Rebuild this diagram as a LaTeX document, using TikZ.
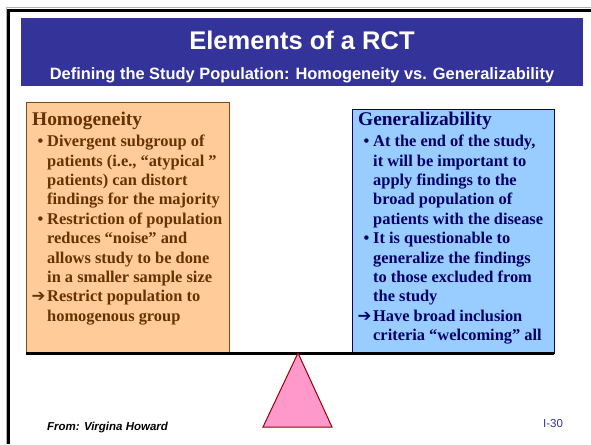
\documentclass[tikz,border=0pt]{standalone}
\usepackage{fontspec}
\setmainfont{Liberation Serif}
\newfontfamily\arialfont{Liberation Sans}
\newfontfamily\arrowfont{DejaVu Sans}
\definecolor{banner}{HTML}{333399}
\definecolor{orfill}{HTML}{FFCC99}
\definecolor{ordraw}{HTML}{7A4A1A}
\definecolor{ortext}{HTML}{663300}
\definecolor{blfill}{HTML}{99CCFF}
\definecolor{bldraw}{HTML}{000066}
\definecolor{bltext}{HTML}{000066}
\definecolor{trifill}{HTML}{FF99CC}
\definecolor{tridraw}{HTML}{990000}
\begin{document}
\begin{tikzpicture}[x=1pt,y=-1pt,
  boxhead/.style={anchor=base west,inner sep=0pt,font=\fontsize{19.4}{22}\selectfont\bfseries},
  boxline/.style={anchor=base west,inner sep=0pt,font=\fontsize{16.4}{19}\selectfont\bfseries},
  bul/.style={anchor=base west,inner sep=0pt,font=\fontsize{16.4}{19}\selectfont\bfseries},
  arr/.style={anchor=base west,inner sep=0pt,font=\arrowfont\fontsize{16.5}{19}\selectfont}]
\useasboundingbox (0,0) rectangle (591,444);
% frame
\draw[gray!60,line width=1.2pt] (6.2,444) -- (6.2,7.8) -- (591,7.8);
\draw[black,line width=2.8pt] (8.6,444) -- (8.6,10.4) -- (591,10.4);
% banner
\node[fill=banner,minimum width=562,minimum height=68,inner sep=0pt,anchor=north west] (banner) at (21,18) {};
\node[anchor=base,inner sep=0pt,text=white,font=\arialfont\fontsize{25.5}{28}\selectfont\bfseries] (title) at (302,50) {Elements of a RCT};
\node[anchor=base,inner sep=0pt,text=white,font=\arialfont\fontsize{16.4}{19}\selectfont\bfseries] (subtitle) at (302,79) {Defining the Study Population: Homogeneity vs. Generalizability};
% boxes
\node[fill=orfill,draw=ordraw,line width=0.8pt,minimum width=203,minimum height=251,inner sep=0pt,anchor=north west] (leftbox) at (26,102) {};
\node[fill=blfill,draw=bldraw,line width=0.8pt,minimum width=202,minimum height=244,inner sep=0pt,anchor=north west] (rightbox) at (352,109) {};
% beam
\coordinate (beamL) at (26,353);
\coordinate (beamR) at (554,353);
\draw[line width=3pt] (beamL) -- (beamR);
% fulcrum
\coordinate (apex) at (298,353);
\coordinate (baseL) at (263,427);
\coordinate (baseR) at (332,427);
\draw[fill=trifill,draw=tridraw,line width=1pt,line join=miter] (apex) -- (baseR) -- (baseL) -- cycle;
% left text
\begin{scope}[text=ortext]
\node[boxhead] (lh) at (32,125) {Homogeneity};
\node[bul] (lb1) at (37.5,146.7) {\textbullet};
\node[boxline] (l1) at (47,146.7) {Divergent subgroup of};
\node[boxline] (l2) at (47,166.1) {patients (i.e., “atypical ”};
\node[boxline] (l3) at (47,185.5) {patients) can distort};
\node[boxline] (l4) at (47,204.9) {findings for the majority};
\node[bul] (lb2) at (37.5,224.3) {\textbullet};
\node[boxline] (l5) at (47,224.3) {Restriction of population};
\node[boxline] (l6) at (47,243.7) {reduces “noise” and};
\node[boxline] (l7) at (47,263.1) {allows study to be done};
\node[boxline] (l8) at (47,282.5) {in a smaller sample size};
\node[arr] (la) at (31.5,301.9) {➔};
\node[boxline] (l9) at (47,301.9) {Restrict population to};
\node[boxline] (l10) at (47,321.3) {homogenous group};
\end{scope}
% right text
\begin{scope}[text=bltext]
\node[boxhead] (rh) at (358,125) {Generalizability};
\node[bul] (rb1) at (363.5,146.7) {\textbullet};
\node[boxline] (r1) at (373,146.7) {At the end of the study,};
\node[boxline] (r2) at (373,166.1) {it will be important to};
\node[boxline] (r3) at (373,185.5) {apply findings to the};
\node[boxline] (r4) at (373,204.9) {broad population of};
\node[boxline] (r5) at (373,224.3) {patients with the disease};
\node[bul] (rb2) at (363.5,243.7) {\textbullet};
\node[boxline] (r6) at (373,243.7) {It is questionable to};
\node[boxline] (r7) at (373,263.1) {generalize the findings};
\node[boxline] (r8) at (373,282.5) {to those excluded from};
\node[boxline] (r9) at (373,301.9) {the study};
\node[arr] (ra) at (357.5,321.3) {➔};
\node[boxline] (r10) at (373,321.3) {Have broad inclusion};
\node[boxline] (r11) at (373,340.7) {criteria “welcoming” all};
\end{scope}
% footer
\node[anchor=base west,inner sep=0pt,font=\arialfont\fontsize{11.5}{13}\selectfont\bfseries\itshape] (from) at (47,430) {From: Virgina Howard};
\node[anchor=base west,inner sep=0pt,text=banner,font=\arialfont\fontsize{11.5}{13}\selectfont] (pageno) at (543,427) {I-30};
\end{tikzpicture}
\end{document}
